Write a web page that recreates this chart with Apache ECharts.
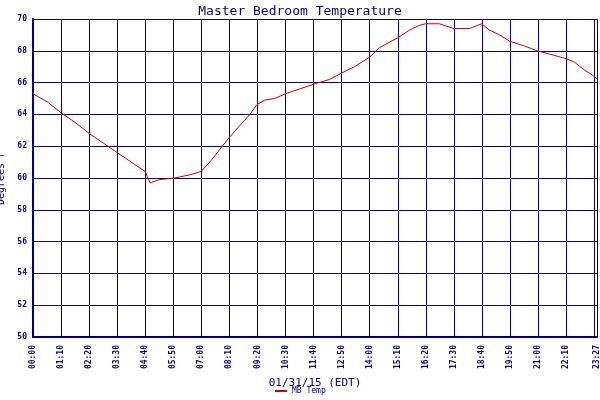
<!DOCTYPE html><html><head><meta charset="utf-8">
<script src="https://cdn.jsdelivr.net/npm/echarts@6/dist/echarts.min.js"></script>
<style>body{margin:0}#c{width:600px;height:400px}</style></head><body><div id="c"></div><script>
const times=[0,35,70,105,140,175,210,245,280,292,316,354,391,419,441,466,488,516,541,558,578,603,630,665,700,740,770,802,840,864,909,939,964,979,1014,1049,1089,1119,1139,1164,1189,1226,1258,1288,1330,1350,1375,1400,1407];
const temps=[65.3,64.8,64.1,63.5,62.8,62.2,61.6,61.0,60.4,59.7,59.9,60.0,60.2,60.4,61.0,61.8,62.5,63.3,64.0,64.6,64.9,65.0,65.3,65.6,65.9,66.2,66.6,67.0,67.6,68.2,68.8,69.3,69.6,69.7,69.7,69.4,69.4,69.7,69.3,69.0,68.6,68.3,68.0,67.8,67.5,67.3,66.8,66.4,66.2];
const seriesName='MB Temp';
const fmt=m=>String(Math.floor(m/60)).padStart(2,'0')+':'+String(m%60).padStart(2,'0');
const navy='#000080',f='DejaVu Sans Mono';
const c=echarts.init(document.getElementById('c'));
c.setOption({animation:false,backgroundColor:'#fff',
title:{text:'Master Bedroom Temperature',left:'center',top:0,textStyle:{color:navy,fontFamily:f,fontWeight:'normal',fontSize:13}},
legend:{bottom:0,left:270,icon:'rect',itemWidth:12,itemHeight:2,textStyle:{color:navy,fontFamily:f,fontSize:8}},
grid:{left:33,right:3,top:19,bottom:63,containLabel:false,outerBoundsMode:'none'},
xAxis:{type:'value',min:0,max:1407,interval:70,name:'01/31/15 (EDT)',nameLocation:'middle',nameGap:41,nameTextStyle:{color:navy,fontFamily:f,fontSize:11},
axisLine:{lineStyle:{color:navy,width:2}},axisTick:{show:false},splitLine:{lineStyle:{color:navy}},
axisLabel:{rotate:90,color:navy,fontFamily:f,fontSize:8,fontWeight:'bold',showMaxLabel:true,formatter:v=>fmt(Math.round(v))}},
yAxis:{type:'value',min:50,max:70,interval:2,name:'Degrees F',nameLocation:'middle',nameGap:25,nameTextStyle:{color:navy,fontFamily:f,fontSize:10},
axisLine:{show:true,lineStyle:{color:navy,width:2}},axisTick:{show:false},splitLine:{lineStyle:{color:navy}},
axisLabel:{color:navy,fontFamily:f,fontSize:8,fontWeight:'bold',margin:6}},
series:[{name:seriesName,type:'line',symbol:'none',color:'#cc0000',lineStyle:{width:1},data:times.map((t,i)=>[t,temps[i]])}]});
</script></body></html>
